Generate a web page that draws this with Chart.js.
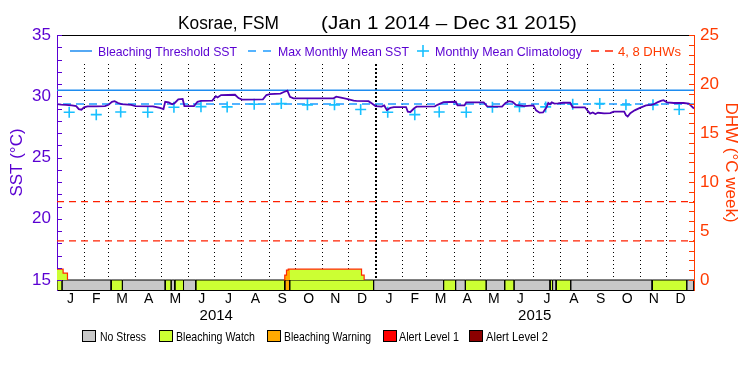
<!DOCTYPE html>
<html><head><meta charset="utf-8">
<script src="https://cdn.jsdelivr.net/npm/chart.js@4/dist/chart.umd.min.js"></script>
<style>html,body{margin:0;padding:0;background:#fff}canvas{display:block}</style>
</head><body>
<canvas id="c" width="750" height="375"></canvas>
<script>
// ---------------- data ----------------
const titleSite = 'Kosrae, FSM';
const titleRange = '(Jan 1 2014 – Dec 31 2015)';
const monthLetters = ['J','F','M','A','M','J','J','A','S','O','N','D'];
const yearLabels = ['2014','2015'];
const sstTicks = [15,20,25,30,35];
const dhwTicks = [0,5,10,15,20,25];

// days since Jan 1 2014
const sstDays = [0,5,10,17,22,25,28,31,35,45,55,59,63,66,70,74,85,90,110,118,122,124,128,132,135,139,144,146,157,161,165,178,
  182,184,188,204,208,212,236,240,244,256,260,264,267,271,317,320,324,332,340,343,357,361,
  365,372,375,378,382,386,400,402,405,409,412,433,436,443,457,459,467,469,489,493,510,514,518,522,526,535,546,549,553,557,561,563,565,567,570,574,580,588,591,605,609,611,614,617,620,627,634,638,650,652,654,657,662,668,675,681,684,688,692,695,699,707,718,724,727,730];
const sstValues = [29.35,29.32,29.3,29.25,29.2,28.95,28.9,29.1,29.18,29.18,29.2,29.3,29.55,29.6,29.45,29.35,29.3,29.2,29.18,29.05,28.95,29.55,29.5,29.35,29.45,29.75,29.78,29.2,29.2,29.55,29.62,29.65,
  30.0,29.9,30.1,30.12,29.85,29.72,29.75,30.1,30.18,30.22,30.35,30.45,29.95,29.83,29.83,29.96,29.9,29.78,29.65,29.62,29.6,29.4,
  29.2,29.15,29.25,28.88,29.05,29.12,29.12,28.75,28.72,29.0,29.15,29.18,29.3,29.52,29.55,29.25,29.25,29.5,29.5,29.18,29.15,29.45,29.6,29.55,29.3,29.2,29.25,28.85,28.66,28.68,29.1,29.45,29.35,29.5,29.4,29.42,29.47,29.47,29.1,29.1,28.75,28.58,28.68,28.55,28.65,28.6,28.62,28.75,28.75,28.45,28.35,28.62,28.85,29.05,29.25,29.3,29.35,29.5,29.62,29.68,29.5,29.45,29.45,29.4,29.2,29.0];
const bleachingThreshold = 30.5;
const maxMonthlyMean = 29.37;
const climatology = [28.7,28.5,28.72,28.7,29.1,29.15,29.13,29.35,29.4,29.3,29.3,28.92];
const dhwLevels = [4, 8];
// two DHW events (day where each value starts, value)
const dhwEvent1Days = [0,7,12];
const dhwEvent1Values = [1.1,0.7,0];
const dhwEvent2Days = [260,261,263,265,267,349,352];
const dhwEvent2Values = [0,0.5,1.0,1.1,1.1,0.5,0];
const statusStart = [0,6,62,75,124,131,135,145,159,261,267,363,443,457,468,492,513,524,565,568,572,589,682,722];
const statusLevel = [1,0,1,0,1,0,1,0,1,2,1,0,1,0,1,0,1,0,1,0,1,0,1,0];
const statusNames  = ['No Stress','Bleaching Watch','Bleaching Warning','Alert Level 1','Alert Level 2'];
const statusColors = ['#c8c8c8','#ccff33','#ffaa00','#ff0000','#8b0000'];
const legendLabels = ['Bleaching Threshold SST','Max Monthly Mean SST','Monthly Mean Climatology','4, 8 DHWs'];

// ---------------- helpers ----------------
const FONT = "'Liberation Sans', Arial, sans-serif";
const PURPLE = '#5a00d2';
const LINEPURPLE = '#5000b4';
const RED = '#ff3a00';
const BLUE = '#1e8cf0';
const CYAN = '#18c0ff';
const X_MAX = 730;
const SST_MAX = 35, DHW_MAX = 25;
const sstMin = 15 - 10 * (SST_MAX - 15) / 245;
const dhwMin = 0 - 10 * DHW_MAX / 245;

const DAY = 86400000, base = Date.UTC(2014,0,1);
const monthStarts = [];
for (let y = 2014; y <= 2016; y++) for (let m = 0; m < 12; m++) {
  const d = (Date.UTC(y,m,1) - base) / DAY; if (d <= X_MAX) monthStarts.push(d);
}
const monthMids = monthStarts.slice(0,-1).map((s,i) => (s + monthStarts[i+1]) / 2);
const gridDays = monthStarts.slice(1,-1);
const yearMids = [365/2, 365 + 365/2];

function statusAt(x){ let lv = statusLevel[0]; for (let i=0;i<statusStart.length;i++) if (statusStart[i] <= x) lv = statusLevel[i]; return lv; }

const statusDatasets = [0,1,2].map(level => {
  const pts = [];
  statusStart.forEach((s,i) => {
    if (statusLevel[i] !== level) return;
    const e = i + 1 < statusStart.length ? statusStart[i+1] : X_MAX;
    pts.push({x:s,y:dhwMin},{x:s,y:0},{x:e,y:0},{x:e,y:dhwMin},{x:e,y:null});
  });
  return {type:'line', yAxisID:'y2', data:pts, borderColor:'#000', borderWidth:1,
    backgroundColor:statusColors[level], fill:'start', pointRadius:0, order:10+level, spanGaps:false};
});

const dhwEvents = [[dhwEvent1Days, dhwEvent1Values],[dhwEvent2Days, dhwEvent2Values]]
  .map(([d,v]) => d.map((x,i) => ({x, y:v[i]})));
const dhwDatasets = [];
dhwEvents.forEach(pts => {
  dhwDatasets.push({type:'line', yAxisID:'y2', data:pts, stepped:'before', borderColor:'#ff2a00', borderWidth:1.2, pointRadius:0, fill:false, order:6});
  const wi = pts.map((p,i) => statusAt(p.x) === 2 ? i : -1).filter(i => i >= 0);
  if (wi.length) dhwDatasets.push({type:'line', yAxisID:'y2', data:pts.slice(wi[0], wi[wi.length-1] + 2), stepped:'before',
    borderWidth:0, borderColor:'rgba(0,0,0,0)', pointRadius:0, fill:'origin', backgroundColor:statusColors[2], order:7});
  dhwDatasets.push({type:'line', yAxisID:'y2', data:pts, stepped:'before', borderWidth:0, borderColor:'rgba(0,0,0,0)',
    pointRadius:0, fill:'origin', backgroundColor:statusColors[1], order:8});
});

const climPts = monthStarts.slice(0,-1).map((s,i) => ({x:s+14, y:climatology[i%12]}));

const datasets = [
  {type:'line', data:sstDays.map((d,i)=>({x:d,y:sstValues[i]})), borderColor:LINEPURPLE, borderWidth:1.8, pointRadius:0, tension:0, fill:false, order:1},
  {type:'line', data:climPts, showLine:false, pointStyle:'cross', pointRadius:5.5, pointBorderWidth:1.6, pointBorderColor:CYAN, borderColor:CYAN, order:2},
  {type:'line', data:[{x:0,y:bleachingThreshold},{x:X_MAX,y:bleachingThreshold}], borderColor:BLUE, borderWidth:1.5, pointRadius:0, order:3},
  {type:'line', data:[{x:0,y:maxMonthlyMean},{x:X_MAX,y:maxMonthlyMean}], borderColor:'#1e9bff', borderWidth:1.5, borderDash:[8,5], borderDashOffset:7, pointRadius:0, order:4},
  ...dhwLevels.map(v => ({type:'line', yAxisID:'y2', data:[{x:0,y:v},{x:X_MAX,y:v}], borderColor:'#ff2000', borderWidth:1.2, borderDash:[7,5], pointRadius:0, order:5})),
  ...dhwDatasets,
  ...statusDatasets
];

// draw text fitted to a given width (compressed or stretched horizontally)
function txt(ctx, s, x, y, size, color, fitW){
  ctx.save(); ctx.font = size + 'px ' + FONT; ctx.fillStyle = color; ctx.textAlign = 'left'; ctx.textBaseline = 'alphabetic';
  const w = ctx.measureText(s).width;
  const k = fitW ? fitW / w : 1;
  ctx.translate(x, y); ctx.scale(k, 1); ctx.fillText(s, 0, 0);
  ctx.restore();
}
function seg(ctx, x1, y1, x2, y2, color, w){ ctx.save(); ctx.strokeStyle=color; ctx.lineWidth=w||1; ctx.beginPath(); ctx.moveTo(x1,y1); ctx.lineTo(x2,y2); ctx.stroke(); ctx.restore(); }

const overlay = {
  id:'overlay',
  beforeDatasetsDraw(chart){
    const a = chart.chartArea, ctx = chart.ctx;
    ctx.save(); ctx.fillStyle = '#fff'; ctx.fillRect(a.left+1, a.top+1, a.right-a.left-2, 28); ctx.restore();
  },
  afterDraw(chart){
    const ctx = chart.ctx, a = chart.chartArea, ys = chart.scales.y, y2 = chart.scales.y2;
    for (let v = 15; v <= 35; v++){ const p = Math.round(ys.getPixelForValue(v)) + 0.5; seg(ctx, a.left, p, a.left+5, p, PURPLE, 1); }
    for (let v = 0; v <= 25; v++){ const p = Math.round(y2.getPixelForValue(v)) + 0.5; seg(ctx, a.right-5, p, a.right, p, RED, 1); }
    txt(ctx, titleSite, 178, 29, 18, '#000', 101);
    txt(ctx, titleRange, 321, 29, 18, '#000', 256);
    const ly = 51, ty = 56;
    seg(ctx, 70, ly, 92, ly, BLUE, 1.5);
    txt(ctx, legendLabels[0], 98, ty, 13, PURPLE, 139);
    seg(ctx, 248, ly, 256, ly, '#1e9bff', 1.5); seg(ctx, 263, ly, 271, ly, '#1e9bff', 1.5);
    txt(ctx, legendLabels[1], 278, ty, 13, PURPLE, 131);
    seg(ctx, 417, ly, 429, ly, CYAN, 1.6); seg(ctx, 423, ly-6, 423, ly+6, CYAN, 1.6);
    txt(ctx, legendLabels[2], 435, ty, 13, PURPLE, 147);
    seg(ctx, 591, ly, 599, ly, '#ff2000', 1.5); seg(ctx, 605, ly, 613, ly, '#ff2000', 1.5);
    txt(ctx, legendLabels[3], 618, ty, 13, RED, 63);
    const bx = [82,159,267,383,469], tx = [100,176,284,399,486], tw = [46,79,87,60,62];
    statusNames.forEach((n,i) => {
      ctx.save(); ctx.fillStyle = statusColors[i]; ctx.fillRect(bx[i], 330, 13, 11);
      ctx.strokeStyle = '#000'; ctx.lineWidth = 1; ctx.strokeRect(bx[i]+0.5, 330.5, 13, 11); ctx.restore();
      txt(ctx, n, tx[i], 341, 13, '#000', tw[i]);
    });
  }
};

new Chart(document.getElementById('c'), {
  type:'line',
  data:{datasets},
  options:{
    responsive:false, animation:false, devicePixelRatio:1,
    layout:{padding:{top:35, bottom:48, left:0, right:0}},
    plugins:{legend:{display:false}, title:{display:false}, tooltip:{enabled:false}},
    elements:{line:{tension:0}},
    scales:{
      x:{type:'linear', position:'bottom', min:0, max:X_MAX, weight:0,
        afterBuildTicks: s => { s.ticks = monthMids.map(v => ({value:v})); },
        ticks:{autoSkip:false, maxRotation:0, minRotation:0, padding:1, color:'#000', font:{family:FONT, size:14},
          callback:(v,i) => monthLetters[i % 12]},
        grid:{display:false, drawTicks:false}, border:{display:true, color:'#000', width:1},
        afterFit: s => { s.height = 17; }},
      xYear:{type:'linear', position:'bottom', min:0, max:X_MAX, weight:1,
        afterBuildTicks: s => { s.ticks = yearMids.map(v => ({value:v})); },
        ticks:{autoSkip:false, maxRotation:0, minRotation:0, padding:0, color:'#000', font:{family:FONT, size:15},
          callback:(v,i) => yearLabels[i]},
        grid:{display:false, drawTicks:false}, border:{display:false},
        afterFit: s => { s.height = 20; }},
      xGrid:{type:'linear', position:'top', min:0, max:X_MAX,
        afterBuildTicks: s => { s.ticks = gridDays.map(v => ({value:v})); },
        ticks:{display:false},
        grid:{display:true, drawTicks:false, color:'#000', lineWidth: c => (c.tick && c.tick.value === 365) ? 2 : 1},
        border:{display:true, color:'#000', width:1, dash: c => (c.tick && c.tick.value === 365) ? [2,2] : [1,3]},
        afterFit: s => { s.height = 0; }},
      y:{type:'linear', position:'left', min:sstMin, max:SST_MAX,
        afterBuildTicks: s => { s.ticks = sstTicks.map(v => ({value:v})); },
        ticks:{color:PURPLE, font:{family:FONT, size:17}, padding:6},
        grid:{display:true, drawOnChartArea:false, drawTicks:false},
        border:{display:true, color:PURPLE, width:1},
        title:{display:true, text:'SST (°C)', color:PURPLE, font:{family:FONT, size:17}, padding:{top:7, bottom:0}},
        afterFit: s => { s.width = 57; }},
      y2:{type:'linear', position:'right', min:dhwMin, max:DHW_MAX,
        afterBuildTicks: s => { s.ticks = dhwTicks.map(v => ({value:v})); },
        ticks:{color:RED, font:{family:FONT, size:17}, padding:6},
        grid:{display:true, drawOnChartArea:false, drawTicks:false},
        border:{display:true, color:RED, width:1},
        title:{display:true, text:'DHW (°C week)', color:RED, font:{family:FONT, size:17}, padding:{top:9, bottom:0}},
        afterFit: s => { s.width = 56; }}
    }
  },
  plugins:[overlay]
});
</script>
</body></html>
